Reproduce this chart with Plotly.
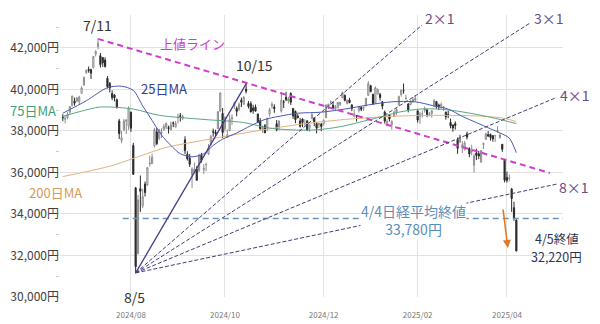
import plotly.graph_objects as go

# ---------------- data ----------------
trading_days = {
    "2024-06": [20, 21, 24, 25, 26, 27, 28],
    "2024-07": [1, 2, 3, 4, 5, 8, 9, 10, 11, 12, 16, 17, 18, 19, 22, 23, 24, 25, 26, 29, 30, 31],
    "2024-08": [1, 2, 5, 6, 7, 8, 9, 13, 14, 15, 16, 19, 20, 21, 22, 23, 26, 27, 28, 29, 30],
    "2024-09": [2, 3, 4, 5, 6, 9, 10, 11, 12, 13, 17, 18, 19, 20, 24, 25, 26, 27, 30],
    "2024-10": [1, 2, 3, 4, 7, 8, 9, 10, 11, 15, 16, 17, 18, 21, 22, 23, 24, 25, 28, 29, 30, 31],
    "2024-11": [1, 5, 6, 7, 8, 11, 12, 13, 14, 15, 18, 19, 20, 21, 22, 25, 26, 27, 28, 29],
    "2024-12": [2, 3, 4, 5, 6, 9, 10, 11, 12, 13, 16, 17, 18, 19, 20, 23, 24, 25, 26, 27, 30],
    "2025-01": [6, 7, 8, 9, 10, 14, 15, 16, 17, 20, 21, 22, 23, 24, 27, 28, 29, 30, 31],
    "2025-02": [3, 4, 5, 6, 7, 10, 12, 13, 14, 17, 18, 19, 20, 21, 25, 26, 27, 28],
    "2025-03": [3, 4, 5, 6, 7, 10, 11, 12, 13, 14, 17, 18, 19, 21, 24, 25, 26, 27, 28, 31],
    "2025-04": [1, 2, 3, 4, 5],
}

opens = [
    38640, 38560, 38640, 38900, 39230, 39430, 39440,
    39400, 39810, 40210, 40800, 40960, 40950, 41050, 41700, 42060, 41620, 41530, 41410, 40530, 40280, 39800, 39730, 39500, 38480, 37530, 38070, 38470, 38230,
    38900, 37300, 35250, 32080, 35220, 34390, 35440, 35400, 36410, 36420, 37280, 37950, 37640, 37900, 38060, 38180, 38160, 38060, 38380, 38180, 38640,
    38730, 38610, 37570, 36870, 36680, 35900, 36000, 36150, 36090, 36830, 36120, 36370, 36890, 37370, 37960, 37940, 38110, 38960, 38840,
    38100, 37680, 38020, 38580, 39200, 39080, 39040, 39480, 39280, 40010, 39320, 39310, 39100, 39150, 38810, 38490, 38100, 38250, 38130, 38800, 39200, 39150,
    38340, 38180, 38950, 39390, 39620, 39440, 39800, 39080, 38940, 38710, 38480, 38570, 38330, 38480, 38120, 38600, 38620, 38350, 38300, 38330,
    38340, 38640, 39170, 39380, 39230, 39050, 39130, 39270, 39590, 39710, 39320, 39490, 39240, 38710, 38730, 38980, 39130, 39100, 39200, 39710, 40170,
    39750, 39330, 39770, 39750, 39400, 38900, 38390, 38790, 38310, 38700, 38910, 39250, 39750, 39940, 39560, 39290, 39270, 39430, 39480,
    38970, 38700, 38820, 38980, 39010, 38760, 38830, 39230, 39410, 39240, 39190, 39120, 38900, 38790, 38410, 38280, 38350, 37580,
    37460, 37200, 37100, 37850, 37150, 37020, 36340, 36940, 36900, 36510, 37340, 37590, 37820, 37830, 37770, 37770, 37980, 37670, 37350, 36620,
    35750, 35710, 35200, 34300, 33700,
]
highs = [
    38800, 38720, 38900, 39190, 39700, 39600, 39620,
    39690, 40150, 40610, 40960, 41100, 40990, 41600, 41880, 42430, 41750, 41550, 41540, 40640, 40350, 39950, 39770, 39560, 38580, 38000, 38570, 38530, 39180,
    38920, 37420, 35300, 34910, 35850, 35210, 35560, 36260, 36800, 36900, 38140, 38150, 38100, 38120, 38330, 38400, 38250, 38440, 38450, 38480, 38830,
    38860, 38780, 37740, 37020, 36890, 36250, 36480, 36300, 36900, 36940, 36400, 36470, 37370, 37800, 38110, 38060, 38930, 39830, 39100,
    38690, 38070, 38780, 38800, 39410, 39180, 39370, 39600, 39680, 40260, 39440, 39420, 39260, 39270, 38830, 38620, 38260, 38330, 38630, 39120, 39400, 39280,
    38520, 38510, 39880, 39490, 39880, 39640, 39860, 39090, 38980, 38800, 38620, 38600, 38560, 38520, 38310, 38870, 38650, 38430, 38380, 38380,
    38560, 39250, 39310, 39470, 39420, 39250, 39390, 39400, 39890, 39750, 39520, 39590, 39290, 39030, 38760, 39200, 39180, 39170, 39580, 40400, 40220,
    39800, 40140, 40050, 39830, 39440, 38980, 38560, 38810, 38510, 38970, 39090, 39700, 39980, 40280, 39740, 39340, 39480, 39630, 39720,
    38980, 38920, 38980, 39170, 39050, 38910, 39000, 39530, 39440, 39310, 39370, 39180, 38930, 38980, 38590, 38310, 38460, 37680,
    37800, 37510, 37510, 37960, 37210, 37330, 36900, 37140, 37040, 37070, 37440, 37920, 37990, 37870, 37800, 37800, 38220, 37880, 37370, 36660,
    36040, 35900, 35250, 34590, 33750,
]
lows = [
    38470, 38360, 38560, 38820, 39180, 39210, 39390,
    39250, 39800, 40170, 40740, 40800, 40500, 41000, 41580, 41920, 41050, 41080, 41050, 40040, 39850, 39480, 39420, 39070, 37610, 37410, 37990, 37850, 38050,
    37950, 35880, 31160, 32080, 34100, 34280, 34840, 35350, 36280, 36400, 37200, 37310, 37540, 37660, 38000, 38080, 37870, 38020, 38180, 38180, 38360,
    38450, 38520, 36880, 36570, 36260, 35250, 35960, 35620, 36020, 36470, 35930, 36060, 36830, 37300, 37720, 37750, 38100, 38900, 37650,
    37980, 37650, 37980, 38290, 39050, 38700, 38950, 39150, 39270, 39800, 39080, 38890, 38830, 38940, 38370, 38060, 37900, 37890, 37980, 38680, 39060, 38870,
    37980, 38030, 38880, 39100, 39430, 39310, 39250, 38580, 38370, 38600, 38160, 38180, 38250, 37990, 37960, 38560, 38220, 37880, 38140, 37980,
    38260, 38610, 39050, 39250, 39040, 38990, 39090, 39200, 39580, 39420, 39270, 39330, 38950, 38650, 38450, 38880, 38950, 38960, 39180, 39700, 39860,
    39240, 39300, 39760, 39460, 39040, 38350, 38220, 38450, 38060, 38660, 38760, 39220, 39650, 39790, 39500, 38890, 39230, 39350, 39400,
    38400, 38340, 38640, 38880, 38660, 38700, 38640, 39140, 39070, 39000, 39060, 38960, 38540, 38610, 38120, 37960, 38060, 36900,
    37420, 36940, 37060, 37590, 36730, 36830, 35990, 36600, 36640, 36450, 37130, 37570, 37710, 37530, 37480, 37470, 37900, 37630, 36990, 35520,
    35510, 35570, 34100, 33670, 32200,
]
closes = [
    38630, 38600, 38800, 39170, 39670, 39340, 39580,
    39630, 40070, 40580, 40910, 40910, 40780, 41580, 41830, 42220, 41190, 41280, 41100, 40130, 40060, 39600, 39590, 39150, 37870, 37670, 38470, 38530, 39100,
    38130, 35910, 31460, 34680, 35090, 34830, 35030, 36230, 36440, 36730, 38060, 37390, 38060, 37950, 38210, 38360, 38110, 38290, 38370, 38360, 38650,
    38700, 38690, 37050, 36660, 36390, 36160, 36160, 35620, 36830, 36580, 36200, 36380, 37160, 37720, 37940, 37870, 38930, 39830, 37920,
    38650, 37810, 38550, 38640, 39330, 38940, 39280, 39380, 39610, 39910, 39180, 38910, 38980, 38950, 38410, 38100, 38140, 37910, 38610, 39030, 39280, 39080,
    38050, 38470, 39480, 39380, 39500, 39530, 39380, 38720, 38540, 38640, 38220, 38410, 38350, 38030, 38280, 38780, 38440, 38130, 38350, 38210,
    38510, 39250, 39280, 39400, 39090, 39160, 39370, 39370, 39850, 39470, 39460, 39360, 39080, 38810, 38700, 39160, 39040, 39130, 39570, 40280, 39890,
    39310, 40080, 39980, 39610, 39190, 38470, 38440, 38570, 38450, 38900, 39030, 39650, 39960, 39930, 39570, 39020, 39410, 39510, 39570,
    38520, 38800, 38830, 39070, 38790, 38800, 38960, 39460, 39150, 39170, 39270, 39160, 38680, 38780, 38240, 38140, 38260, 37160,
    37790, 37330, 37420, 37700, 36890, 37030, 36790, 36820, 36790, 37050, 37400, 37850, 37750, 37680, 37610, 37780, 38030, 37800, 37120, 35620,
    35620, 35730, 34740, 33780, 32220,
]

# moving averages (trading-day position, value)
ma25_pos = [0, 10, 19, 25, 30, 34, 38, 42, 46, 50, 55, 60, 64, 68, 74, 80, 86, 92, 100, 110,
            120, 130, 140, 150, 158, 164, 170, 176, 182, 187, 190, 193]
ma25_val = [38850, 39450, 40080, 40150, 39950, 39200, 38500, 37800, 37300, 36900, 36750, 36900, 37300, 37600, 37900, 38250, 38550, 38700, 38850, 38900,
            39050, 39250, 39400, 39400, 39200, 39050, 38700, 38400, 38100, 37850, 37650, 36950]
ma75_pos = [0, 8, 16, 30, 41, 60, 77, 87, 97, 108, 118, 131, 143, 152, 160, 168, 178, 186, 193]
ma75_val = [38700, 38950, 39150, 39050, 38750, 38550, 38400, 38150, 38050, 38050, 38200, 38550, 38900, 39050, 39050, 38950, 38750, 38550, 38350]
ma200_pos = [0, 20, 44, 60, 80, 100, 120, 140, 160, 180, 188, 193]
ma200_val = [35800, 36300, 37200, 37550, 37950, 38300, 38550, 38700, 38750, 38700, 38600, 38450]

# Gann fan (from 8/5 low) end points
fan_labels = ["2×1", "3×1", "4×1", "8×1"]
fan_end_pos = [152.9, 198.8, 209.5, 210.3]
fan_end_val = [43100, 43190, 39580, 35440]
resist_end_pos = 207.3
resist_end_val = 35970

month_ticks = ["2024-08", "2024-10", "2024-12", "2025-02", "2025-04"]
y_ticks = [30000, 32000, 34000, 36000, 38000, 40000, 42000]

# ---------------- build ----------------
dates = [f"{m}-{d:02d}" for m, ds in trading_days.items() for d in ds]
xs = list(range(len(dates)))
i_0711 = dates.index("2024-07-11")
i_0805 = dates.index("2024-08-05")
i_1015 = dates.index("2024-10-15")
i_0404 = dates.index("2025-04-04")
tickvals = [next(i for i, d in enumerate(dates) if d.startswith(m)) for m in month_ticks]
ticktext = [m.replace("-", "/") for m in month_ticks]

X_RANGE = [-1.19, 212.85]
FONT = "Noto Sans CJK JP, Noto Sans, sans-serif"
fig = go.Figure()

fig.add_trace(go.Candlestick(
    x=xs, open=opens, high=highs, low=lows, close=closes,
    increasing=dict(line=dict(color="#8c8c8c", width=1), fillcolor="#ffffff"),
    decreasing=dict(line=dict(color="#2a2a2a", width=1), fillcolor="#2a2a2a"),
    whiskerwidth=0, hoverinfo="skip", showlegend=False))

for pos, val, col in [(ma200_pos, ma200_val, "#e3b27e"),
                      (ma75_pos, ma75_val, "#5aa585"),
                      (ma25_pos, ma25_val, "#4a5ab0")]:
    fig.add_trace(go.Scatter(x=pos, y=val, mode="lines",
                             line=dict(color=col, width=1, shape="spline", smoothing=0.8),
                             hoverinfo="skip", showlegend=False))

# resistance line (上値ライン)
fig.add_trace(go.Scatter(x=[i_0711, resist_end_pos], y=[highs[i_0711], resist_end_val], mode="lines",
                         line=dict(color="#d23ccb", width=2, dash="6px,4px"),
                         hoverinfo="skip", showlegend=False))

# 4/4 close horizontal line
fig.add_trace(go.Scatter(x=[25.5, X_RANGE[1]], y=[closes[i_0404]] * 2, mode="lines",
                         line=dict(color="#6a93b8", width=1.5, dash="6px,4px"),
                         hoverinfo="skip", showlegend=False))

# Gann fan
fig.add_trace(go.Scatter(x=[i_0805, i_1015], y=[lows[i_0805], highs[i_1015]], mode="lines",
                         line=dict(color="#4a3a88", width=1.3),
                         hoverinfo="skip", showlegend=False))
for ep, ev in zip(fan_end_pos, fan_end_val):
    fig.add_trace(go.Scatter(x=[i_0805, ep], y=[lows[i_0805], ev], mode="lines",
                             line=dict(color="#4a3a7a", width=1, dash="4px,2px"),
                             hoverinfo="skip", showlegend=False))

ann = []
def px_to_paper(px):
    return (px - 60) / 503.0

def label(x, y, text, color, size=13, xref="x", **kw):
    ann.append(dict(x=x, y=y, xref=xref, yref="y", text=text, showarrow=False,
                    xanchor="center", yanchor="middle",
                    font=dict(family=FONT, size=size, color=color), **kw))

label(14.6, 43100, "7/11", "#333333", 14)
label(55.4, 42230, "上値ライン", "#d23ccb", 13)
label(81.4, 41170, "10/15", "#333333", 14)
label(43.1, 40060, "25日MA", "#2f3f8f", 13)
label(px_to_paper(33), 39000, "75日MA", "#3f9f7a", 13, xref="paper")
label(px_to_paper(55), 35010, "200日MA", "#d49a5a", 13, xref="paper")
label(30.7, 30010, "8/5", "#333333", 14)
label(160.5, 43430, fan_labels[0], "#6a4c8c", 14)
label(206.9, 43430, fan_labels[1], "#6a4c8c", 14)
label(px_to_paper(575), 39730, fan_labels[2], "#6a4c8c", 14, xref="paper")
label(px_to_paper(574), 35300, fan_labels[3], "#6a4c8c", 14, xref="paper")
label(149.4, 33710, f"4/4日経平均終値<br>{closes[i_0404]:,}円", "#5b8db8", 14,
      bgcolor="white", borderpad=0)
label(px_to_paper(557), 32841, "4/5終値", "#2c3454", 12.5, xref="paper", borderpad=0)
label(px_to_paper(556), 31950, f"{closes[-1]:,}円", "#2c3454", 12.5, xref="paper", borderpad=0)

ann.append(dict(x=189.4, y=32360, xref="x", yref="y", ax=-5, ay=-40, text="",
                showarrow=True, arrowhead=2, arrowsize=1, arrowwidth=1.6, arrowcolor="#e07a2a"))

fig.update_layout(
    width=600, height=324,
    margin=dict(l=60, r=37, t=15, b=27, autoexpand=False),
    paper_bgcolor="white", plot_bgcolor="white",
    showlegend=False,
    font=dict(family=FONT, color="#333333"),
    annotations=ann,
    xaxis=dict(range=X_RANGE, tickvals=tickvals, ticktext=ticktext, automargin=False,
               tickfont=dict(size=8, color="#777777"), showgrid=True, gridcolor="#e2e2e2",
               zeroline=False, rangeslider=dict(visible=False),
               ticks="outside", ticklen=10, tickcolor="rgba(0,0,0,0)",
               showline=False),
    yaxis=dict(range=[30000, 43580], tickvals=y_ticks, ticktext=[f"{v:,}円" for v in y_ticks],
               automargin=False,
               tickfont=dict(size=12, color="#404040"), showgrid=True, gridcolor="#e2e2e2",
               zeroline=False, showline=False, ticks="",
               minor=dict(dtick=1000, ticks="outside", ticklen=3, tickcolor="#cccccc", showgrid=False)),
)

fig.write_html("out.html")
